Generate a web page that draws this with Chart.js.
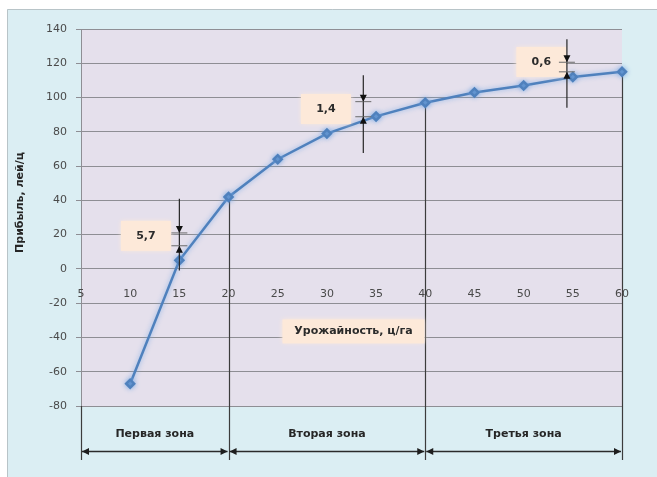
<!DOCTYPE html>
<html>
<head>
<meta charset="utf-8">
<script src="https://cdn.jsdelivr.net/npm/chart.js@4.4.1/dist/chart.umd.min.js"></script>
<style>
  html, body { margin: 0; padding: 0; background: #fff; }
  #wrap { width: 657px; height: 477px; }
</style>
</head>
<body>
<div id="wrap"><canvas id="chart"></canvas></div>
<script>
// данные графика
const urozhai = [10, 15, 20, 25, 30, 35, 40, 45, 50, 55, 60];
const pribyl = [-67, 5, 42, 64, 79, 89, 97, 103, 107, 112, 115];
const xTicks = [5, 10, 15, 20, 25, 30, 35, 40, 45, 50, 55, 60];
const zoneEdges = [5, 20, 40, 60];
const zoneNames = ['Первая зона', 'Вторая зона', 'Третья зона'];
const deltaLabels = ['5,7', '1,4', '0,6'];

// где рисовать стрелки приращений (в единицах осей)
const deltaMarks = [
  { x: 15,   from: 41,  to: -1,  top: 21,    bottom: 13.5, lx: 11.6, ly: 19.3 },
  { x: 33.7, from: 113, to: 67.6, top: 97.6, bottom: 88.8, lx: 29.9, ly: 93.3 },
  { x: 54.4, from: 134, to: 94,  top: 120.6, bottom: 115,  lx: 51.8, ly: 120.8 }
];

const FONT = 'DejaVu Sans';
const peach = '#fde9d9';

function head(ctx, x, y, dx, dy) {
  // наконечник стрелки, остриё в (x, y)
  const len = 7, w = 3.5;
  const bx = x - dx * len, by = y - dy * len;
  ctx.beginPath();
  ctx.moveTo(x, y);
  ctx.lineTo(bx - dy * w, by + dx * w);
  ctx.lineTo(bx + dy * w, by - dx * w);
  ctx.closePath();
  ctx.fill();
}

function labelBox(ctx, text, cx, cy, w, h) {
  ctx.save();
  ctx.fillStyle = peach;
  ctx.shadowColor = peach;
  ctx.shadowBlur = 5;
  ctx.fillRect(cx - w / 2, cy - h / 2, w, h);
  ctx.restore();
  ctx.fillStyle = '#2b2b2b';
  ctx.font = 'bold 11px ' + FONT;
  ctx.textAlign = 'center';
  ctx.textBaseline = 'middle';
  ctx.fillText(text, cx, cy);
}

const decor = {
  id: 'decor',
  beforeDraw(chart) {
    const { ctx, chartArea: a } = chart;
    ctx.save();
    ctx.fillStyle = '#fff';
    ctx.fillRect(0, 0, chart.width, chart.height);
    ctx.fillStyle = '#dbeef3';
    ctx.fillRect(7, 9, chart.width - 7, chart.height - 9);
    ctx.strokeStyle = '#b8c4c8';
    ctx.lineWidth = 1;
    ctx.beginPath();
    ctx.moveTo(7.5, chart.height);
    ctx.lineTo(7.5, 9.5);
    ctx.lineTo(chart.width, 9.5);
    ctx.stroke();
    ctx.fillStyle = '#e5e0ec';
    ctx.fillRect(a.left, a.top, a.right - a.left, a.bottom - a.top);
    ctx.restore();
  },
  beforeDatasetsDraw(chart) {
    const { ctx, chartArea: a, scales: { x, y } } = chart;
    ctx.save();
    ctx.strokeStyle = '#3c3c3c';
    ctx.lineWidth = 1.2;
    zoneEdges.forEach(v => {
      const i = urozhai.indexOf(v);
      const top = i >= 0 ? y.getPixelForValue(pribyl[i]) : a.bottom;
      const px = Math.round(x.getPixelForValue(v)) + 0.5;
      ctx.beginPath();
      ctx.moveTo(px, top);
      ctx.lineTo(px, a.bottom + 54);
      ctx.stroke();
    });
    ctx.restore();
  },
  afterDatasetsDraw(chart) {
    const { ctx, chartArea: a, scales: { x, y } } = chart;
    ctx.save();

    // подписи оси X на нулевой линии
    ctx.fillStyle = '#4a4a4a';
    ctx.font = '11px ' + FONT;
    ctx.textAlign = 'center';
    ctx.textBaseline = 'middle';
    const y0 = y.getPixelForValue(0);
    xTicks.forEach(v => ctx.fillText(String(v), x.getPixelForValue(v), y0 + 25));

    // зоны
    const ay = a.bottom + 45.5;
    ctx.strokeStyle = '#2a2a2a';
    ctx.fillStyle = '#1e1e1e';
    ctx.lineWidth = 1.3;
    for (let i = 0; i < zoneNames.length; i++) {
      const x1 = x.getPixelForValue(zoneEdges[i]) + 1;
      const x2 = x.getPixelForValue(zoneEdges[i + 1]) - 1;
      ctx.beginPath();
      ctx.moveTo(x1, ay);
      ctx.lineTo(x2, ay);
      ctx.stroke();
      head(ctx, x1, ay, -1, 0);
      head(ctx, x2, ay, 1, 0);
      ctx.font = 'bold 11px ' + FONT;
      ctx.textAlign = 'center';
      ctx.textBaseline = 'middle';
      ctx.fillStyle = '#262626';
      ctx.fillText(zoneNames[i], (x1 + x2) / 2, a.bottom + 28);
      ctx.fillStyle = '#1e1e1e';
    }

    // приращения прибыли
    deltaMarks.forEach((m, i) => {
      const px = x.getPixelForValue(m.x);
      labelBox(ctx, deltaLabels[i], x.getPixelForValue(m.lx), y.getPixelForValue(m.ly), 50, 30);
      ctx.strokeStyle = '#262626';
      ctx.fillStyle = '#111';
      ctx.lineWidth = 1.2;
      ctx.beginPath();
      ctx.moveTo(px, y.getPixelForValue(m.from));
      ctx.lineTo(px, y.getPixelForValue(m.to));
      ctx.stroke();
      const yt = y.getPixelForValue(m.top), yb = y.getPixelForValue(m.bottom);
      ctx.strokeStyle = '#6a6a6a';
      ctx.lineWidth = 1;
      ctx.beginPath();
      ctx.moveTo(px - 8, yt); ctx.lineTo(px + 8, yt);
      ctx.moveTo(px - 8, yb); ctx.lineTo(px + 8, yb);
      ctx.stroke();
      head(ctx, px, yt, 0, 1);
      head(ctx, px, yb, 0, -1);
    });

    // подпись оси X
    labelBox(ctx, 'Урожайность, ц/га', x.getPixelForValue(32.7), y.getPixelForValue(-36.5), 142, 24);

    // подпись оси Y
    ctx.translate(a.left - 61, (a.top + a.bottom) / 2 - 15);
    ctx.rotate(-Math.PI / 2);
    ctx.fillStyle = '#262626';
    ctx.font = 'bold 11px ' + FONT;
    ctx.textAlign = 'center';
    ctx.textBaseline = 'middle';
    ctx.fillText('Прибыль, лей/ц', 0, 0);
    ctx.restore();
  },
  beforeDatasetDraw(chart) {
    chart.ctx.save();
    chart.ctx.shadowColor = 'rgba(120,170,230,0.8)';
    chart.ctx.shadowBlur = 5;
  },
  afterDatasetDraw(chart) {
    chart.ctx.restore();
  }
};

new Chart(document.getElementById('chart'), {
  type: 'line',
  data: {
    datasets: [{
      label: 'Прибыль',
      data: urozhai.map((v, i) => ({ x: v, y: pribyl[i] })),
      borderColor: '#4f81bd',
      backgroundColor: '#4f81bd',
      borderWidth: 2.5,
      pointStyle: 'rectRot',
      pointRadius: 4,
      pointHoverRadius: 4,
      tension: 0,
      clip: false
    }]
  },
  options: {
    responsive: true,
    maintainAspectRatio: false,
    animation: false,
    layout: { padding: { left: 8, right: 35, top: 29, bottom: 71 } },
    plugins: { legend: { display: false }, tooltip: { enabled: false } },
    scales: {
      x: { type: 'linear', min: 5, max: 60, display: false },
      y: {
        min: -80, max: 140,
        ticks: { stepSize: 20, padding: 9, color: '#4a4a4a', font: { family: FONT, size: 11 } },
        grid: { color: '#8e8e94', lineWidth: 1, tickLength: 5, tickColor: '#8e8e94' },
        border: { display: true, color: '#8e8e94', width: 1 },
        afterFit(s) { s.width = 73; }
      }
    }
  },
  plugins: [decor]
});
</script>
</body>
</html>
